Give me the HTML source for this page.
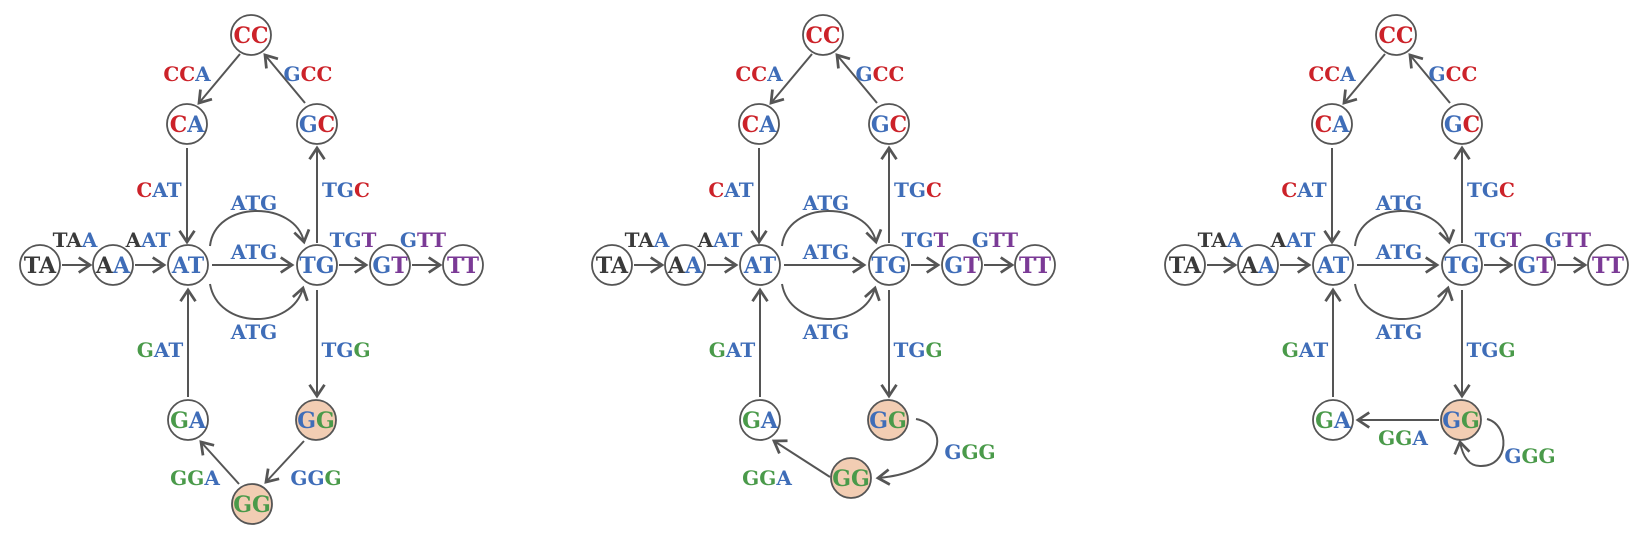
<!DOCTYPE html>
<html><head><meta charset="utf-8"><style>
html,body{margin:0;padding:0;background:#fff;}
svg{display:block;}
text{font-family:"DejaVu Serif","Liberation Serif",serif;font-weight:bold;text-anchor:middle;dominant-baseline:central;}
.n{font-size:22px;}
.l{font-size:20px;}
.r{fill:#cc2229}.b{fill:#3f6db8}.g{fill:#4a9a4a}.p{fill:#7b3a96}.k{fill:#3a3a3a}
circle{stroke:#555;stroke-width:1.8;fill:#fff}
circle.o{fill:#f2cdb3}
.e{stroke:#555;stroke-width:2;fill:none;marker-end:url(#ah)}
</style></head><body>
<svg width="1650" height="538" viewBox="0 0 1650 538" xmlns="http://www.w3.org/2000/svg">
<defs>
<marker id="ah" markerUnits="userSpaceOnUse" markerWidth="20" markerHeight="20" viewBox="-12 -8 14 16" refX="0" refY="0" orient="auto">
<path d="M-9,-6 L0,0 L-9,6" fill="none" stroke="#555" stroke-width="2.2"/>
</marker>
<g id="common">
<path class="e" d="M62 265 L90 265"/>
<path class="e" d="M135 265 L164 265"/>
<path class="e" d="M212 265 L292 265"/>
<path class="e" d="M339 265 L366 265"/>
<path class="e" d="M412 265 L440 265"/>
<path class="e" d="M240 54 L199 103"/>
<path class="e" d="M305 103 L265 55"/>
<path class="e" d="M187 148 L187 242"/>
<path class="e" d="M317 243 L317 148"/>
<path class="e" d="M188 397 L188 290"/>
<path class="e" d="M317 290 L317 396"/>
<path class="e" d="M210 246 C215 200,295 200,304 242"/>
<path class="e" d="M210 284 C218 330,292 330,303 288"/>
<circle cx="40" cy="265" r="20"/><text class="n" x="40" y="266"><tspan class="k">TA</tspan></text>
<circle cx="113" cy="265" r="20"/><text class="n" x="113" y="266"><tspan class="k">A</tspan><tspan class="b">A</tspan></text>
<circle cx="188" cy="265" r="20"/><text class="n b" x="188" y="266">AT</text>
<circle cx="317" cy="265" r="20"/><text class="n b" x="317" y="266">TG</text>
<circle cx="390" cy="265" r="20"/><text class="n" x="390" y="266"><tspan class="b">G</tspan><tspan class="p">T</tspan></text>
<circle cx="463" cy="265" r="20"/><text class="n p" x="463" y="266">TT</text>
<circle cx="251" cy="35" r="20"/><text class="n r" x="251" y="36">CC</text>
<circle cx="187" cy="124" r="20"/><text class="n" x="187" y="125"><tspan class="r">C</tspan><tspan class="b">A</tspan></text>
<circle cx="317" cy="124" r="20"/><text class="n" x="317" y="125"><tspan class="b">G</tspan><tspan class="r">C</tspan></text>
<circle cx="188" cy="420" r="20"/><text class="n" x="188" y="421"><tspan class="g">G</tspan><tspan class="b">A</tspan></text>
<circle class="o" cx="316" cy="420" r="20"/><text class="n" x="316" y="421"><tspan class="b">G</tspan><tspan class="g">G</tspan></text>
<text class="l" x="75" y="240"><tspan class="k">TA</tspan><tspan class="b">A</tspan></text>
<text class="l" x="148" y="240"><tspan class="k">A</tspan><tspan class="b">AT</tspan></text>
<text class="l" x="353" y="240"><tspan class="b">TG</tspan><tspan class="p">T</tspan></text>
<text class="l" x="423" y="240"><tspan class="b">G</tspan><tspan class="p">TT</tspan></text>
<text class="l" x="187" y="74"><tspan class="r">CC</tspan><tspan class="b">A</tspan></text>
<text class="l" x="308" y="74"><tspan class="b">G</tspan><tspan class="r">CC</tspan></text>
<text class="l" x="159" y="190"><tspan class="r">C</tspan><tspan class="b">AT</tspan></text>
<text class="l" x="346" y="190"><tspan class="b">TG</tspan><tspan class="r">C</tspan></text>
<text class="l b" x="254" y="203">ATG</text>
<text class="l b" x="254" y="252">ATG</text>
<text class="l b" x="254" y="332">ATG</text>
<text class="l" x="160" y="350"><tspan class="g">G</tspan><tspan class="b">AT</tspan></text>
<text class="l" x="346" y="350"><tspan class="b">TG</tspan><tspan class="g">G</tspan></text>
</g>
</defs>
<rect width="1650" height="538" fill="#fff"/>
<use href="#common"/>
<path class="e" d="M304 441 L266 482"/>
<path class="e" d="M239 484 L201 442"/>
<circle class="o" cx="252" cy="504" r="20"/><text class="n g" x="252" y="505">GG</text>
<text class="l" x="195" y="478"><tspan class="g">GG</tspan><tspan class="b">A</tspan></text>
<text class="l" x="316" y="478"><tspan class="b">GG</tspan><tspan class="g">G</tspan></text>
<g transform="translate(572,0)">
<use href="#common"/>
<path class="e" d="M344 419 C376 425,378 472,306 478"/>
<path class="e" d="M258 477 L202 441"/>
<circle class="o" cx="279" cy="478" r="20"/><text class="n g" x="279" y="479">GG</text>
<text class="l" x="195" y="478"><tspan class="g">GG</tspan><tspan class="b">A</tspan></text>
<text class="l" x="398" y="452"><tspan class="b">G</tspan><tspan class="g">GG</tspan></text>
</g>
<g transform="translate(1145,0)">
<use href="#common"/>
<path class="e" d="M294 420 L213 420"/>
<path class="e" d="M342 419 C365 425,365 467,335 466 C325 466,318 458,315 442"/>
<text class="l" x="258" y="438"><tspan class="g">GG</tspan><tspan class="b">A</tspan></text>
<text class="l" x="385" y="456"><tspan class="b">G</tspan><tspan class="g">GG</tspan></text>
</g>
</svg>
</body></html>
